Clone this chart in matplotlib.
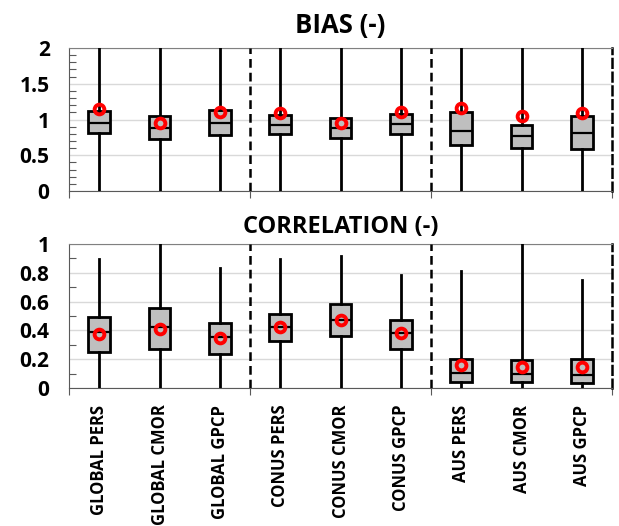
import matplotlib
matplotlib.use("Agg")
import matplotlib.pyplot as plt
from matplotlib.ticker import FixedLocator

plt.rcParams['font.family'] = ['Open Sans', 'DejaVu Sans']
plt.rcParams['font.weight'] = 'bold'

categories = ["GLOBAL PERS", "GLOBAL CMOR", "GLOBAL GPCP",
              "CONUS PERS", "CONUS CMOR", "CONUS GPCP",
              "AUS PERS", "AUS CMOR", "AUS GPCP"]

# bias statistics per product
bias_low = [0.0, 0.0, 0.0, 0.0, 0.0, 0.0, 0.0, 0.0, 0.0]
bias_q1 = [0.815, 0.727, 0.79, 0.797, 0.746, 0.797, 0.639, 0.606, 0.587]
bias_med = [0.955, 0.88, 0.95, 0.92, 0.886, 0.937, 0.835, 0.77, 0.807]
bias_q3 = [1.12, 1.045, 1.133, 1.063, 1.017, 1.081, 1.10, 0.93, 1.045]
bias_high = [2.5, 2.5, 2.5, 2.5, 2.5, 2.5, 2.5, 2.5, 2.5]
bias_mean = [1.14, 0.95, 1.11, 1.087, 0.955, 1.10, 1.157, 1.053, 1.087]
bias_ticks = [0, 0.5, 1, 1.5, 2]
bias_ticklabels = ["0", "0.5", "1", "1.5", "2"]

# correlation statistics per product
corr_low = [0.0, 0.0, 0.0, 0.0, 0.0, 0.0, 0.0, 0.0, 0.0]
corr_q1 = [0.252, 0.269, 0.234, 0.324, 0.361, 0.271, 0.044, 0.044, 0.033]
corr_med = [0.389, 0.426, 0.356, 0.426, 0.472, 0.38, 0.106, 0.10, 0.093]
corr_q3 = [0.491, 0.553, 0.454, 0.516, 0.581, 0.472, 0.201, 0.192, 0.201]
corr_high = [0.893, 1.0, 0.835, 0.893, 0.92, 0.783, 0.81, 1.0, 0.748]
corr_mean = [0.373, 0.407, 0.347, 0.424, 0.47, 0.382, 0.162, 0.148, 0.148]
corr_ticks = [0, 0.2, 0.4, 0.6, 0.8, 1]
corr_ticklabels = ["0", "0.2", "0.4", "0.6", "0.8", "1"]


def build_stats(low, q1, med, q3, high, mean):
    return [dict(whislo=a, q1=b, med=c, q3=d, whishi=e, mean=f, fliers=[])
            for a, b, c, d, e, f in zip(low, q1, med, q3, high, mean)]


def draw_panel(ax, stats, ymax, ticks, ticklabels, title, title_size, title_pad):
    pos = [i + 0.5 for i in range(len(stats))]
    ax.bxp(stats, positions=pos, widths=0.36, patch_artist=True,
           showcaps=False, showmeans=True, showfliers=False,
           boxprops=dict(facecolor='#BFBFBF', edgecolor='black', linewidth=2.0),
           whiskerprops=dict(color='black', linewidth=2.0),
           medianprops=dict(color='black', linewidth=1.6),
           meanprops=dict(marker='o', markerfacecolor='none',
                          markeredgecolor='red', markeredgewidth=2.8,
                          markersize=7),
           zorder=3)
    ax.set_xlim(0, 9)
    ax.set_ylim(0, ymax)
    ax.set_title(title, fontsize=title_size, fontweight='bold', pad=title_pad)

    # group separators
    for x in (3, 6):
        ax.axvline(x, color='black', linestyle=(0, (3.5, 2)), linewidth=1.8, zorder=4)
    ax.spines['right'].set_linestyle((0, (3.5, 2)))
    ax.spines['right'].set_linewidth(1.8)
    ax.spines['right'].set_color('black')
    ax.spines['top'].set_color('#808080')
    ax.spines['left'].set_color('#595959')
    ax.spines['bottom'].set_color('#595959')

    ax.set_yticks(ticks, ticklabels)
    minor = [round(0.1 * k, 1) for k in range(int(round(ymax * 10)) + 1)]
    ax.yaxis.set_minor_locator(FixedLocator(minor))
    ax.grid(axis='y', which='major', color='#D9D9D9', linewidth=1.0, zorder=0)
    ax.set_axisbelow(True)
    ax.tick_params(axis='y', which='major', length=0, pad=14, labelsize=15)
    ax.tick_params(axis='y', which='minor', direction='in', length=5,
                   width=0.8, color='#595959')

    ax.xaxis.set_major_locator(FixedLocator(pos))
    ax.xaxis.set_minor_locator(FixedLocator([0, 3, 6, 9]))
    ax.tick_params(axis='x', which='minor', direction='out', length=5,
                   width=0.8, color='#595959')
    ax.tick_params(axis='x', which='major', length=0)


fig = plt.figure(figsize=(6.19, 5.26), dpi=100)
ax1 = fig.add_axes([0.1115, 0.6369, 0.8772, 0.2718])
ax2 = fig.add_axes([0.1115, 0.2624, 0.8772, 0.2737])

draw_panel(ax1, build_stats(bias_low, bias_q1, bias_med, bias_q3, bias_high, bias_mean),
           2, bias_ticks, bias_ticklabels, "BIAS (-)", 18.5, 11)
ax1.set_xticklabels([])

draw_panel(ax2, build_stats(corr_low, corr_q1, corr_med, corr_q3, corr_high, corr_mean),
           1, corr_ticks, corr_ticklabels, "CORRELATION (-)", 17, 8)
ax2.set_xticklabels(categories, rotation=90, fontsize=12, fontweight='bold')
ax2.tick_params(axis='x', which='major', pad=12)

fig.savefig("out.png", dpi=100)
